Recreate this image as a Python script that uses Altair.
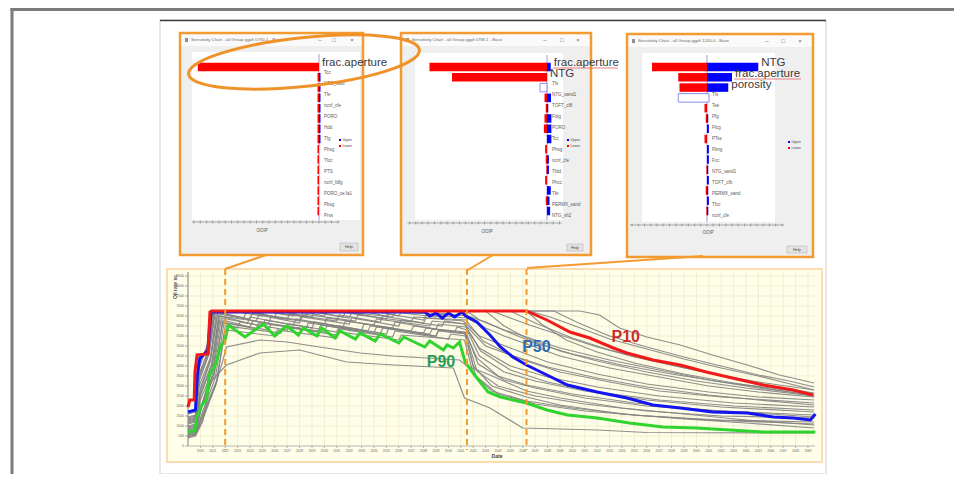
import altair as alt
import pandas as pd

M = 8  # page margin: layout positions below are page pixels, shifted by M

# ---------------- tornado (sensitivity) charts ----------------
p1_params = ["frac.aperture", "Tcc", "NTG_fault", "Tfe", "ncnf_cfe", "PORO", "Hdd",
             "Tfg", "Phsg", "Tfcc", "PTS", "ncnf_fdfg", "PORO_ce.fa1", "Pbsg", "Prss"]
p1_lower = [-97, -1.2, -1.2, -1.2, -1.2, -1.2, -1.2, -1.2, -1.2, -1.2, -1.2, -1.2, -1.2, -1.2, -1.2]
p1_upper = [0, 1.2, 1.2, 1.2, 1.2, 1.2, 1.2, 1.2, 0, 0, 0, 0, 0, 0, 0]

p2_params = ["frac.aperture", "NTG", "Tfs", "NTG_sand1", "TOFT_cf8", "Fdtg", "PORO", "Tcc",
             "Phsg", "ncnf_cfe", "Tfdd", "Phcc", "Tfe", "PERMX_sand", "NTG_sh2"]
p2_lower = [-94, -76, 0, -2, -1, -2, -2.5, 0, -1.5, -1, -0.5, -1.5, 0, -1, 0]
p2_upper = [3, 0, 0, 3.2, 1, 3.5, 3.5, 3.5, 0, 1.5, 1.5, 0, 3, 2, 2.5]

p3_params = ["NTG", "frac.aperture", "porosity", "Tfs", "Tee", "Pfg", "Ffcg", "PTss", "Fbng",
             "Fcc", "NTG_sand1", "TOFT_cfb", "PERMX_sand", "Tfcc", "ncnf_cfe"]
p3_lower = [-44, -23, -22, 0, -2, -1, 0, -2, 0, 0, -0.5, 0, -1, 0, -0.5]
p3_upper = [41, 20, 17, 0, 0, 1, 1.5, 0, 1.5, 1.5, 1, 1.5, 1, 1.5, 1]

# selected-row outline boxes: (row, low, high)
p2_highlight = (2, -5.6, 0)
p3_highlight = (3, -23, 1.6)

# ---------------- production profiles (t = years from start) ----------------
snap_times = [3.0, 22.5, 27.3]

p10_curve = [(0, 3.9), (0.15, 4.6), (0.5, 4.6), (0.56, 7.4), (0.73, 9.1), (1.6, 9.2), (1.77, 13.4),
             (1.9, 13.5), (27.3, 13.5), (28.95, 12.6), (30.8, 11.4), (32.4, 10.8), (34.3, 9.8),
             (35.4, 9.3), (37.5, 8.6), (39.7, 8.1), (41.8, 7.4), (43.9, 6.8), (46.4, 6.1),
             (48.8, 5.6), (50.4, 5.1)]
p50_curve = [(0, 3.4), (0.6, 3.6), (0.75, 7.0), (0.95, 8.8), (1.6, 9.5), (1.85, 13.3), (1.95, 13.4),
             (19.1, 13.4), (19.5, 13.0), (20.0, 13.3), (20.5, 12.8), (21.0, 13.3), (21.5, 12.9),
             (22.1, 13.4), (22.4, 13.0), (23.3, 12.4), (24.35, 11.1), (25.2, 9.9), (26.2, 8.9),
             (27.3, 8.1), (28.95, 7.1), (30.6, 6.1), (33.0, 5.4), (35.4, 4.8), (37.5, 4.1),
             (39.7, 3.8), (42.3, 3.4), (45.1, 3.3), (47.2, 2.9), (48.8, 2.8), (50.2, 2.6), (50.6, 3.2)]
p90_curve = [(0, 1.4), (0.55, 1.5), (0.7, 2.8), (1.1, 4.1), (1.5, 4.6), (1.7, 7.1), (2.2, 8.1),
             (2.6, 9.9), (3.0, 10.6), (3.25, 12.1), (4.6, 10.9), (6.07, 12.2), (7.0, 11.0),
             (7.96, 12.0), (8.9, 11.1), (9.3, 11.8), (10.4, 11.0), (10.78, 11.8), (11.85, 10.8),
             (12.26, 11.5), (13.5, 10.7), (13.87, 11.3), (15.1, 10.5), (15.5, 11.2), (17.0, 10.3),
             (17.4, 10.9), (19.1, 9.9), (19.5, 10.5), (20.6, 9.6), (20.9, 10.1), (21.4, 9.8),
             (21.9, 10.4), (22.35, 8.4), (23.3, 6.8), (24.2, 5.4), (25.2, 4.9), (26.2, 4.6),
             (27.3, 4.3), (28.95, 3.6), (30.6, 3.1), (33.0, 2.8), (35.6, 2.3), (38.3, 1.9),
             (41.0, 1.8), (43.7, 1.6), (46.4, 1.4), (49.1, 1.4), (50.6, 1.4)]

run_01 = [(0, 3.2), (0.6, 3.4), (0.8, 8.5), (1.5, 9.6), (1.8, 13.5), (31.6, 13.5), (33.2, 13.1), (34.8, 11.8),
          (37.0, 10.9), (39.7, 10.1), (42.3, 9.1), (45.1, 8.1), (47.7, 7.1), (50.5, 6.3)]
run_02 = [(0, 2.8), (0.6, 3.0), (0.9, 7.8), (1.6, 10.2), (2.0, 13.5), (29.5, 13.5), (31.5, 12.3), (34.0, 11.0),
          (37.0, 9.9), (40.0, 8.9), (43.0, 8.0), (46.0, 7.1), (48.5, 6.5), (50.5, 5.9)]
run_03 = [(0, 2.5), (0.6, 2.7), (0.9, 7.2), (1.7, 9.8), (2.1, 13.5), (27.5, 13.5), (29.2, 12.9), (31.0, 12.1),
          (34.0, 10.7), (37.0, 9.7), (40.0, 8.7), (43.0, 7.8), (46.0, 7.0), (50.5, 5.6)]
run_04 = [(0, 2.2), (0.6, 2.4), (0.9, 6.5), (1.7, 9.2), (2.2, 13.5), (9.0, 13.5), (11.0, 13.0), (11.2, 13.5),
          (15.0, 13.5), (17.0, 13.0), (17.2, 13.4), (21.0, 13.1), (21.2, 13.5), (24.5, 13.5), (26.0, 12.8),
          (27.3, 12.2), (30.0, 11.1), (33.0, 9.9), (36.0, 8.9), (40.0, 7.8), (44.0, 6.8), (47.0, 6.0), (50.5, 5.3)]
run_05 = [(0, 2.0), (0.6, 2.2), (0.9, 6.0), (1.8, 8.8), (2.3, 13.5), (5.0, 13.5), (7.0, 12.9), (7.2, 13.5),
          (10.0, 12.9), (10.2, 13.4), (13.0, 12.8), (13.2, 13.3), (16.0, 12.7), (16.2, 13.2), (19.0, 12.6),
          (19.2, 13.1), (22.5, 12.8), (24.0, 11.8), (25.5, 11.0), (27.3, 10.2), (30.0, 9.0), (34.0, 7.8),
          (38.0, 6.9), (42.0, 6.0), (46.0, 5.4), (50.5, 4.9)]
run_06 = [(0, 1.8), (0.6, 2.0), (1.0, 5.5), (1.8, 8.5), (2.4, 13.4), (4.5, 12.8), (4.7, 13.4), (8.0, 12.7),
          (8.2, 13.2), (12.0, 12.5), (12.2, 13.1), (15.5, 12.4), (15.7, 13.0), (19.0, 12.3), (19.2, 12.8),
          (22.2, 12.5), (23.5, 11.0), (26.0, 9.8), (29.0, 8.4), (33.0, 7.2), (37.0, 6.2), (42.0, 5.4),
          (46.0, 4.9), (50.5, 4.6)]
run_07 = [(0, 1.6), (0.6, 1.8), (1.0, 5.0), (1.9, 8.0), (2.5, 13.2), (5.5, 12.5), (5.7, 13.1), (9.0, 12.3),
          (9.2, 12.9), (13.0, 12.2), (13.2, 12.8), (17.0, 12.0), (17.2, 12.6), (20.5, 12.0), (20.7, 12.5),
          (22.3, 12.2), (24.0, 10.0), (27.3, 8.5), (30.0, 7.4), (34.0, 6.4), (38.0, 5.5), (43.0, 4.9), (50.5, 4.3)]
run_08 = [(0, 1.4), (0.6, 1.6), (1.0, 4.6), (2.0, 7.6), (2.6, 13.0), (4.8, 12.3), (5.0, 12.9), (8.5, 12.1),
          (8.7, 12.7), (12.5, 11.9), (12.7, 12.5), (16.5, 11.8), (16.7, 12.4), (20.0, 11.7), (20.2, 12.2),
          (22.4, 11.9), (23.5, 9.8), (26.0, 8.0), (29.0, 6.9), (33.0, 5.9), (38.0, 5.0), (44.0, 4.3), (50.5, 3.9)]
run_09 = [(0, 1.3), (0.6, 1.5), (1.1, 4.2), (2.0, 7.2), (2.7, 12.8), (6.0, 12.0), (6.2, 12.6), (10.0, 11.8),
          (10.2, 12.4), (14.0, 11.6), (14.2, 12.2), (18.0, 11.5), (18.2, 12.0), (21.5, 11.4), (21.7, 11.9),
          (22.5, 11.6), (23.5, 9.0), (25.5, 7.4), (28.0, 6.5), (32.0, 5.5), (37.0, 4.6), (43.0, 3.9), (50.5, 3.4)]
run_10 = [(0, 1.2), (0.6, 1.4), (1.1, 3.8), (2.1, 7.0), (2.8, 12.6), (5.0, 11.9), (5.2, 12.5), (9.5, 11.7),
          (9.7, 12.3), (14.5, 11.5), (14.7, 12.0), (19.0, 11.3), (19.2, 11.8), (22.4, 11.4), (23.4, 8.2),
          (25.5, 6.6), (28.0, 5.8), (32.0, 4.8), (37.0, 4.0), (43.0, 3.5), (50.5, 3.1)]
run_11 = [(0, 1.1), (0.6, 1.3), (1.2, 3.5), (2.2, 6.8), (2.9, 12.3), (6.5, 11.6), (6.7, 12.2), (11.0, 11.4),
          (11.2, 12.0), (15.5, 11.2), (15.7, 11.8), (20.0, 11.0), (20.2, 11.5), (22.4, 11.2), (23.3, 7.5),
          (25.0, 6.0), (28.0, 5.0), (32.0, 4.2), (37.0, 3.5), (43.0, 3.0), (50.5, 2.8)]
run_12 = [(0, 1.0), (0.6, 1.2), (1.2, 3.2), (2.3, 6.5), (3.0, 12.0), (7.5, 11.3), (7.7, 11.9), (12.0, 11.1),
          (12.2, 11.7), (16.5, 10.9), (16.7, 11.5), (21.0, 10.7), (21.2, 11.2), (22.4, 11.0), (23.2, 7.0),
          (25.0, 5.2), (28.0, 4.2), (32.0, 3.5), (37.0, 3.0), (43.0, 2.6), (50.5, 2.4)]
run_13 = [(0, 0.9), (0.6, 1.1), (1.3, 3.0), (2.2, 6.0), (2.8, 8.5), (3.1, 9.9), (5.8, 10.6), (8.0, 10.4),
          (10.6, 9.9), (13.9, 9.3), (16.5, 9.0), (19.25, 8.8), (21.9, 8.6), (22.5, 8.0), (24.35, 7.1),
          (27.3, 5.5), (30.0, 4.8), (35.0, 3.8), (40.0, 3.2), (45.0, 2.6), (50.5, 2.1)]
run_14 = [(0, 0.8), (0.6, 1.0), (1.2, 2.5), (1.8, 6.4), (3.1, 8.1), (5.8, 9.3), (9.0, 9.6), (12.8, 8.4),
          (16.6, 8.1), (21.4, 7.8), (22.3, 4.8), (24.35, 3.8), (27.0, 1.8), (33.0, 1.6), (37.0, 1.35), (50.5, 1.3)]
run_15 = [(0, 1.5), (0.6, 1.7), (1.1, 4.0), (1.9, 7.5), (2.5, 12.5), (4.0, 11.8), (4.2, 12.4), (8.0, 11.6),
          (8.2, 12.2), (12.0, 11.4), (12.2, 12.0), (16.0, 11.2), (16.2, 11.8), (20.0, 11.0), (20.2, 11.6),
          (22.3, 11.3), (23.0, 8.0), (24.5, 6.0), (27.3, 4.9), (30.0, 4.1), (35.0, 3.2), (40.0, 2.7),
          (45.0, 2.3), (50.5, 1.8)]
run_16 = [(0, 2.6), (0.6, 2.8), (0.8, 8.0), (1.6, 10.0), (2.0, 13.5), (12.0, 13.5), (14.0, 13.1), (14.2, 13.5),
          (26.0, 13.5), (28.0, 12.3), (31.0, 10.8), (34.0, 9.6), (38.0, 8.4), (42.0, 7.3), (46.0, 6.4), (50.5, 5.6)]
run_17 = [(0, 2.4), (0.6, 2.6), (0.9, 7.0), (1.7, 9.5), (2.1, 13.5), (3.5, 13.5), (6.0, 13.0), (6.2, 13.5),
          (9.5, 12.9), (9.7, 13.5), (12.5, 12.9), (12.7, 13.4), (16.5, 12.9), (16.7, 13.4), (20.0, 12.9),
          (20.2, 13.3), (22.6, 13.0), (24.0, 12.4), (26.0, 11.3), (28.0, 10.3), (31.0, 9.2), (35.0, 8.1),
          (39.0, 7.2), (43.0, 6.4), (47.0, 5.8), (50.5, 5.2)]
run_18 = [(0, 2.9), (0.6, 3.1), (0.8, 8.2), (1.6, 9.9), (1.9, 13.5), (27.3, 13.5), (28.5, 12.2), (30.5, 10.6),
          (33.0, 9.4), (36.0, 8.3), (40.0, 7.2), (44.0, 6.3), (47.0, 5.7), (50.5, 5.0)]
run_19 = [(0, 2.3), (0.6, 2.5), (0.9, 6.8), (1.7, 9.3), (2.2, 13.5), (6.0, 13.5), (8.5, 13.0), (8.7, 13.5),
          (14.0, 13.5), (16.0, 13.0), (16.2, 13.5), (24.0, 13.5), (25.5, 12.0), (27.3, 10.8), (30.0, 9.5),
          (33.0, 8.5), (37.0, 7.4), (41.0, 6.5), (45.0, 5.8), (50.5, 5.0)]
run_20 = [(0, 1.9), (0.6, 2.1), (1.0, 5.8), (1.8, 8.6), (2.4, 13.3), (5.0, 12.7), (5.2, 13.3), (9.0, 12.6),
          (9.2, 13.2), (13.5, 12.5), (13.7, 13.1), (18.0, 12.4), (18.2, 12.9), (22.4, 12.6), (23.8, 10.5),
          (26.0, 9.1), (29.0, 7.9), (33.0, 6.8), (37.0, 5.9), (42.0, 5.1), (46.0, 4.6), (50.5, 4.1)]
run_21 = [(0, 1.7), (0.6, 1.9), (1.0, 5.2), (1.9, 8.2), (2.5, 13.0), (6.5, 12.3), (6.7, 12.9), (11.0, 12.2),
          (11.2, 12.8), (15.0, 12.1), (15.2, 12.7), (19.5, 12.0), (19.7, 12.5), (22.3, 12.2), (23.6, 9.5),
          (26.0, 7.6), (29.0, 6.4), (33.0, 5.4), (38.0, 4.6), (44.0, 4.0), (50.5, 3.6)]
run_22 = [(0, 1.2), (0.6, 1.4), (1.1, 4.0), (2.1, 7.3), (2.8, 12.4), (5.5, 11.7), (5.7, 12.3), (10.5, 11.5),
          (10.7, 12.1), (15.0, 11.3), (15.2, 11.9), (19.5, 11.2), (19.7, 11.7), (22.4, 11.3), (23.3, 8.8),
          (25.0, 7.0), (27.3, 6.1), (31.0, 5.2), (36.0, 4.3), (42.0, 3.6), (50.5, 2.9)]
run_23 = [(0, 2.7), (0.6, 2.9), (0.8, 7.9), (1.6, 10.1), (2.0, 13.5), (22.5, 13.5), (23.5, 12.6), (25.5, 11.6),
          (27.3, 10.9), (30.0, 9.8), (34.0, 8.6), (38.0, 7.6), (42.0, 6.6), (46.0, 5.8), (50.5, 5.1)]
run_24 = [(0, 1.0), (0.6, 1.2), (1.3, 3.3), (2.3, 6.3), (3.0, 11.6), (7.0, 11.0), (7.2, 11.6), (12.0, 10.8),
          (12.2, 11.4), (17.0, 10.6), (17.2, 11.1), (22.3, 10.6), (23.0, 7.2), (24.5, 5.5), (27.3, 4.5),
          (31.0, 3.8), (36.0, 3.1), (42.0, 2.6), (50.5, 2.2)]

gray_runs = [run_01, run_02, run_03, run_04, run_05, run_06, run_07, run_08, run_09, run_10, run_11, run_12,
             run_13, run_14, run_15, run_16, run_17, run_18, run_19, run_20, run_21, run_22, run_23, run_24]

year_ticks = list(range(1, 51))
rate_ticks = list(range(0, 18))

p_labels = [("P10", 35.3, 10.9, "#cf2b2b"), ("P50", 28.1, 9.9, "#2d6cb3"), ("P90", 20.4, 8.4, "#2b9c57")]

# ---------------- helpers ----------------
ONE = pd.DataFrame({"k": [0]})
SANS = "Liberation Sans, Arial, sans-serif"
ORANGE = "#f39b30"


def rect(x0, y0, x1, y1, **style):
    return alt.Chart(ONE).mark_rect(**style).encode(
        x=alt.value(x0 - M), x2=alt.value(x1 - M), y=alt.value(y0 - M), y2=alt.value(y1 - M))


def seg(x0, y0, x1, y1, **style):
    return alt.Chart(ONE).mark_rule(**style).encode(
        x=alt.value(x0 - M), x2=alt.value(x1 - M), y=alt.value(y0 - M), y2=alt.value(y1 - M))


def txt(x, y, s, **style):
    return alt.Chart(ONE).mark_text(text=s, font=style.pop("font", SANS), **style).encode(
        x=alt.value(x - M), y=alt.value(y - M))


layers = []
L = layers.append
late = []  # annotation labels drawn above all windows

# outer window frame and the pasted screenshot
L(rect(10.5, 8, 962, 11, fill="#7b7b7b"))
L(rect(10.5, 8, 13.5, 482, fill="#7b7b7b"))
L(rect(160, 20, 826, 474, fill="#ffffff", stroke="#d0d0d0", strokeWidth=1))
L(seg(160, 20.5, 826, 20.5, color="#3f3f3f", strokeWidth=1.3))

panels = [
    dict(params=p1_params, lower=p1_lower, upper=p1_upper, big=1, hl=None,
         frame=(180, 33, 363, 255), white=(192, 52, 360, 220), center=319, axis_y=222,
         ticks=(-100, 15), xlabel=(262, 231), legend=(339, 140), help=(340, 243, 358, 251),
         ctrl=[320, 334, 352], title="Sensitivity Chart - all Group ggplt 0730-1 - Base", underline=None),
    dict(params=p2_params, lower=p2_lower, upper=p2_upper, big=2, hl=p2_highlight,
         frame=(401, 33, 591, 255), white=(415, 53, 563, 220), center=547, axis_y=223,
         ticks=(-110, 10), xlabel=(487, 232), legend=(567, 140), help=(567, 244, 583, 251),
         ctrl=[545, 562, 578], title="Sensitivity Chart - all Group ggplt 0TM-1 - Base",
         underline=(553, 68, 618)),
    dict(params=p3_params, lower=p3_lower, upper=p3_upper, big=3, hl=p3_highlight,
         frame=(627, 34, 813, 257), white=(642, 53, 775, 222), center=707, axis_y=225,
         ticks=(-60, 60), xlabel=(708, 233), legend=(788, 142), help=(787, 246, 807, 253),
         ctrl=[767, 783, 800], title="Sensitivity Chart - all Group ggplt 1200-0 - Base",
         underline=(734, 79, 801)),
]

S = 1.25  # pixels per sensitivity unit
for pn in panels:
    n = len(pn["params"])
    df = pd.DataFrame({"param": pn["params"], "row": list(range(n)),
                       "lower": pn["lower"], "upper": pn["upper"], "zero": [0.0] * n,
                       "big": [i < pn["big"] for i in range(n)]})
    df["lx"] = df["upper"].clip(lower=0)
    c = pn["center"]
    xs = alt.Scale(domain=[-100, 40], range=[c - 100 * S - M, c + 40 * S - M], nice=False, zero=False)
    ys = alt.Scale(domain=[0, 14], range=[62 - M, 216 - M], nice=False, zero=False)
    fx0, fy0, fx1, fy1 = pn["frame"]
    wx0, wy0, wx1, wy1 = pn["white"]

    L(rect(fx0, fy0, fx1, fy1, fill="#efefef"))
    L(rect(fx0 + 1, fy0 + 1, fx1 - 1, fy0 + 13, fill="#fafafa"))
    L(rect(wx0, wy0, wx1, wy1, fill="#ffffff"))
    L(rect(fx0 + 5, fy0 + 5, fx0 + 8, fy0 + 9, fill="#8f8f8f"))
    L(txt(fx0 + 11, fy0 + 7, pn["title"], fontSize=4.3, color="#6a6a6a", align="left", baseline="middle"))
    for cx, ch in zip(pn["ctrl"], ["\u2013", "\u25a1", "\u00d7"]):
        L(txt(cx, fy0 + 7, ch, fontSize=6, color="#666666", align="center", baseline="middle"))

    # x axis of the tornado
    t0, t1 = pn["ticks"]
    ay = pn["axis_y"]
    L(seg(c + t0 * S - 2, ay, c + t1 * S + 2, ay, color="#8a8a8a", strokeWidth=0.7))
    tdf = pd.DataFrame({"v": list(range(t0, t1 + 1, 5))})
    L(alt.Chart(tdf).mark_rule(color="#777777", strokeWidth=0.6).encode(
        x=alt.X("v:Q", scale=xs, axis=None), y=alt.value(ay - 1.5 - M), y2=alt.value(ay + 1.5 - M)))
    L(txt(pn["xlabel"][0], pn["xlabel"][1], "OOIP", fontSize=4.5, color="#555555"))

    # zero line
    L(seg(c, wy0 + 2, c, wy1, color="#8f7fe0", strokeWidth=0.8))

    yenc = alt.Y("row:Q", scale=ys, axis=None)
    L(alt.Chart(df).mark_bar(orient="horizontal", size=8.5, color="#ff0000").encode(
        x=alt.X("lower:Q", scale=xs, axis=None), x2="zero:Q", y=yenc))
    L(alt.Chart(df).mark_bar(orient="horizontal", size=8.5, color="#0000ff").encode(
        x=alt.X("upper:Q", scale=xs, axis=None), x2="zero:Q", y=yenc))
    if pn["hl"] is not None:
        r, lo, hi = pn["hl"]
        hdf = pd.DataFrame({"row": [r], "lo": [lo], "hi": [hi]})
        L(alt.Chart(hdf).mark_bar(orient="horizontal", size=8.5, fill="#ffffff",
                                  stroke="#8c8cf0", strokeWidth=1).encode(
            x=alt.X("lo:Q", scale=xs, axis=None), x2="hi:Q", y=yenc))
    L(alt.Chart(df).transform_filter("!datum.big").mark_text(
        align="left", baseline="middle", dx=5, fontSize=4.5, font=SANS, color="#5a5a5a").encode(
        x=alt.X("zero:Q", scale=xs, axis=None), y=yenc, text="param:N"))

    # legend
    lx, ly = pn["legend"]
    L(rect(lx, ly - 1, lx + 2, ly + 1, fill="#0000ff"))
    L(rect(lx, ly + 5, lx + 2, ly + 7, fill="#ff0000"))
    L(txt(lx + 3.5, ly, "Upper", fontSize=3.5, color="#4a4a4a", align="left", baseline="middle"))
    L(txt(lx + 3.5, ly + 6, "Lower", fontSize=3.5, color="#4a4a4a", align="left", baseline="middle"))

    # help button
    hx0, hy0, hx1, hy1 = pn["help"]
    L(rect(hx0, hy0, hx1, hy1, fill="#e3e3e3", stroke="#b5b5b5", strokeWidth=0.6))
    L(txt((hx0 + hx1) / 2, (hy0 + hy1) / 2, "Help", fontSize=3.8, color="#444444", baseline="middle"))

    # window frame highlight
    L(rect(fx0, fy0, fx1, fy1, fillOpacity=0, stroke=ORANGE, strokeWidth=2.5))

    # enlarged parameter names (pasted over the screenshots)
    late.append(alt.Chart(df).transform_filter("datum.big").mark_text(
        align="left", baseline="middle", dx=3, dy=0.5, fontSize=11.5, font=SANS, color="#3a3a3a").encode(
        x=alt.X("lx:Q", scale=xs, axis=None), y=yenc, text="param:N"))
    if pn["underline"] is not None:
        ux0, uy, ux1 = pn["underline"]
        late.append(seg(ux0, uy, ux1, uy, color="#e46060", strokeWidth=0.8))

layers.extend(late)

# ---------------- production profile chart ----------------
tx = alt.Scale(domain=[0, 50.6], range=[188 - M, 815.4 - M], nice=False, zero=False)
ry = alt.Scale(domain=[0, 17.5], range=[446 - M, 271 - M], nice=False, zero=False)
XT = alt.X("t:Q", scale=tx, axis=None)
YR = alt.Y("rate:Q", scale=ry, axis=None)

L(rect(167, 269, 822, 462, fill="#fffee8", stroke="#fcdcb0", strokeWidth=2))

gt = pd.DataFrame({"t": year_ticks, "lab": [str(2019 + v) for v in year_ticks]})
gr = pd.DataFrame({"rate": rate_ticks, "lab": [str(v * 500) for v in rate_ticks]})
L(alt.Chart(gt).mark_rule(color="#ece8c4", strokeWidth=0.7).encode(
    x=XT, y=alt.value(272 - M), y2=alt.value(446 - M)))
L(alt.Chart(gr).mark_rule(color="#ece8c4", strokeWidth=0.7).encode(
    y=YR, x=alt.value(188 - M), x2=alt.value(815 - M)))
L(seg(188, 272, 188, 446, color="#707070", strokeWidth=0.9))
L(seg(188, 446, 815, 446, color="#b8b8b8", strokeWidth=0.9))
L(alt.Chart(gr).mark_rule(color="#707070", strokeWidth=0.6).encode(
    y=YR, x=alt.value(185 - M), x2=alt.value(188 - M)))
L(alt.Chart(gr).mark_text(fontSize=3.4, color="#666666", align="right", baseline="middle", font=SANS).encode(
    y=YR, x=alt.value(184 - M), text="lab:N"))
L(alt.Chart(gt).mark_rule(color="#8a8a8a", strokeWidth=0.6).encode(
    x=XT, y=alt.value(446 - M), y2=alt.value(448 - M)))
L(alt.Chart(gt).mark_text(fontSize=3.2, color="#666666", baseline="top", font=SANS).encode(
    x=XT, y=alt.value(449 - M), text="lab:N"))
L(txt(175, 287, "Oil rate sc", angle=270, fontSize=5, fontWeight="bold", color="#444444", baseline="middle"))
L(txt(497, 456, "Date", fontSize=5, fontWeight="bold", fontStyle="italic", color="#444444", baseline="middle"))

rows = []
for k, run in enumerate(gray_runs):
    for i, (t, r) in enumerate(run):
        rows.append({"run": k, "i": i, "t": t, "rate": r})
gray_df = pd.DataFrame(rows)
L(alt.Chart(gray_df).mark_line(color="#828282", strokeWidth=1.15, opacity=0.9).encode(
    x=XT, y=YR, detail="run:N", order="i:Q"))


def curve_df(pts):
    return pd.DataFrame({"t": [p[0] for p in pts], "rate": [p[1] for p in pts], "i": list(range(len(pts)))})


for pts, col in [(p90_curve, "#2fd42f"), (p50_curve, "#1414f0"), (p10_curve, "#f01a1a")]:
    L(alt.Chart(curve_df(pts)).mark_line(color=col, strokeWidth=3).encode(x=XT, y=YR, order="i:Q"))

L(alt.Chart(pd.DataFrame({"t": snap_times})).mark_rule(color=ORANGE, strokeWidth=2, strokeDash=[6, 4]).encode(
    x=XT, y=alt.value(269 - M), y2=alt.value(450 - M)))

for name, t, r, col in p_labels:
    L(alt.Chart(pd.DataFrame({"t": [t], "rate": [r], "name": [name]})).mark_text(
        fontSize=16, fontWeight="bold", color=col, font=SANS, baseline="middle").encode(
        x=XT, y=YR, text="name:N"))

# connectors from snapshot times to the tornado windows
L(seg(225, 269, 266, 255, color=ORANGE, strokeWidth=2))
L(seg(466, 271, 493, 255, color=ORANGE, strokeWidth=2))
L(seg(527, 268, 703, 256, color=ORANGE, strokeWidth=2))

# hand-drawn ellipse around the dominant parameter
ELLIPSE = "M -1 0 A 1 0.21 0 1 1 1 0 A 1 0.21 0 1 1 -1 0 Z"
L(alt.Chart(ONE).mark_point(shape=ELLIPSE, size=232 ** 2, angle=354, filled=False,
                            stroke="#f0922a", strokeWidth=3, opacity=1).encode(
    x=alt.value(304 - M), y=alt.value(62 - M)))

chart = alt.layer(*layers).resolve_scale(x="independent", y="independent").properties(
    width=946, height=466, padding=0, autosize=alt.AutoSizeParams(type="none"),
    background="#ffffff").configure_view(strokeWidth=0)

chart.save("out.html", embed_options={"renderer": "svg", "actions": False})
